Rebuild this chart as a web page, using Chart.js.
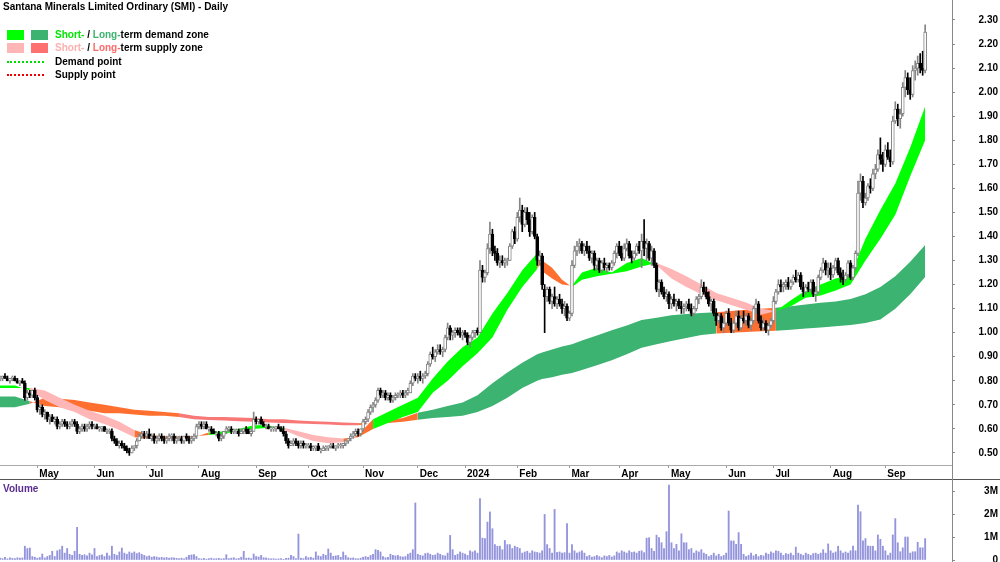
<!DOCTYPE html>
<html>
<head>
<meta charset="utf-8">
<script src="https://cdn.jsdelivr.net/npm/chart.js@4.4.1/dist/chart.umd.min.js"></script>
<style>
body { margin: 0; background: #fff; }
#wrap { position: relative; width: 1000px; height: 562px; overflow: hidden; font-family: "Liberation Sans", Arial, sans-serif; font-weight: bold; font-size: 10px; color: #000; }
#price { position: absolute; left: 0; top: 0; }
#volume { position: absolute; left: 0; top: 480px; }
.sep { position: absolute; left: 0; top: 479px; width: 1000px; height: 1px; background: #555; }
.vline { position: absolute; left: 952px; top: 0; width: 1px; height: 562px; background: #888; }
.txt { position: absolute; white-space: nowrap; line-height: 12px; }
.box { position: absolute; width: 17px; height: 10px; }
.dots { position: absolute; left: 7px; width: 37px; height: 0; }
</style>
</head>
<body>
<div id="wrap">
  <canvas id="price" width="1000" height="479"></canvas>
  <canvas id="volume" width="1000" height="82"></canvas>
  <div class="sep"></div>
  <div class="vline"></div>
  <div class="txt" style="left:3px;top:1px;">Santana Minerals Limited Ordinary (SMI) - Daily</div>
  <div class="box" style="left:7px;top:30px;background:#00ff00;"></div>
  <div class="box" style="left:31px;top:30px;background:#3cb371;"></div>
  <div class="txt" style="left:55px;top:29px;"><span style="color:#00e600">Short-</span> / <span style="color:#3cb371">Long-</span>term demand zone</div>
  <div class="box" style="left:7px;top:43px;background:#ffb6b6;"></div>
  <div class="box" style="left:31px;top:43px;background:#ff7070;"></div>
  <div class="txt" style="left:55px;top:42px;"><span style="color:#ffb0b0">Short-</span> / <span style="color:#ff6a6a">Long-</span>term supply zone</div>
  <div class="dots" style="top:61px;border-top:2px dotted #00dd00;"></div>
  <div class="txt" style="left:55px;top:56px;">Demand point</div>
  <div class="dots" style="top:74px;border-top:2px dotted #ee0000;"></div>
  <div class="txt" style="left:55px;top:69px;">Supply point</div>
  <div class="txt" style="left:3px;top:483px;color:#5a2d91;">Volume</div>
</div>
<script>
// month ticks (bar index of first trading day)
const monthNames = ['May', 'Jun', 'Jul', 'Aug', 'Sep', 'Oct', 'Nov', 'Dec', '2024', 'Feb', 'Mar', 'Apr', 'May', 'Jun', 'Jul', 'Aug', 'Sep'];
const monthIdx = [15, 38, 59, 80, 103, 124, 146, 168, 187, 208, 229, 249, 269, 292, 311, 334, 356];
const priceTicks = [0.5, 0.6, 0.7, 0.8, 0.9, 1.0, 1.1, 1.2, 1.3, 1.4, 1.5, 1.6, 1.7, 1.8, 1.9, 2.0, 2.1, 2.2, 2.3];
const volTicks = [0, 1000, 2000, 3000];
const volTickLabels = ['0', '1M', '2M', '3M'];

// daily prices in cents
const opens = [
  81,81,82,81,80,81,81,80,79,80, 79,73,75,74,76,73,68,69,66,67,
  64,65,63,64,61,62,63,62,61,62, 63,62,59,60,61,60,61,62,61,61,
  60,60,61,59,59,59,56,55,53,54, 53,52,51,50,52,53,55,57,58,57,
  58,56,57,55,56,57,56,55,56,57, 57,55,56,56,55,57,56,55,56,57,
  61,62,61,62,60,60,59,58,58,56, 57,59,60,60,59,59,59,58,59,60,
  59,58,59,64,63,64,62,61,61,60, 60,60,61,60,59,58,55,53,54,55,
  54,53,54,53,53,53,52,52,53,51, 51,52,52,53,53,52,53,53,53,54,
  55,56,57,58,59,58,60,63,64,67, 69,70,72,76,74,75,73,74,72,73,
  74,74,75,74,75,75,79,82,81,82, 81,82,83,87,91,90,92,93,92,93,
  98,102,99,100,101,100,99,100,99,96, 98,100,101,100,126,123,125,135,141,134,
  133,129,130,129,130,130,136,142,139,148, 151,145,150,147,142,148,140,130,132,118,
  115,118,113,115,112,114,112,110,111,106, 108,128,134,136,137,134,136,134,131,133,
  128,130,126,129,127,128,127,129,133,136, 133,131,135,137,132,131,133,136,134,138,
  135,137,131,134,128,118,121,117,115,116, 112,114,112,113,111,110,111,112,110,108,
  110,114,115,119,117,115,112,113,108,105, 107,102,104,108,104,101,104,107,102,106,
  105,107,103,105,110,112,105,102,104,101, 103,105,113,117,120,119,120,121,119,121,
  123,122,124,119,117,119,118,121,116,117, 123,126,129,126,127,124,127,130,125,123,
  122,124,129,123,127,133,158,163,154,156, 161,160,166,168,174,172,170,176,173,171,
  188,193,189,191,202,206,201,199,209,210, 212,210,209
];
const highs = [
  82,82,83,82,81,82,82,81,80,81, 80,76,76,76,77,74,70,70,68,67,
  66,66,65,65,63,64,64,63,63,64, 64,63,61,62,62,62,63,63,62,62,
  61,61,61,60,60,60,57,56,55,55, 54,53,52,53,53,56,58,59,59,59,
  60,58,58,57,58,58,57,57,58,58, 58,57,57,57,57,58,57,57,58,62,
  63,63,63,63,61,61,60,59,59,58, 59,61,61,61,60,60,60,60,60,61,
  60,60,67,65,64,65,63,62,62,61, 61,61,62,61,61,59,56,55,56,56,
  55,55,55,54,54,54,53,53,54,52, 53,53,53,54,54,53,54,54,54,55,
  56,58,59,60,60,60,64,65,68,70, 71,73,77,77,76,76,75,75,74,75,
  75,76,76,76,77,80,83,83,83,84, 83,84,88,92,94,93,95,95,94,99,
  104,103,101,102,102,102,101,101,100,99, 101,101,102,130,128,126,137,146,143,136,
  135,132,132,131,131,137,143,144,150,156, 153,152,152,150,149,150,141,134,133,120,
  119,119,116,119,115,116,114,113,112,109, 130,136,138,139,138,137,138,136,134,134,
  131,131,130,131,129,129,130,134,137,138, 136,137,139,138,134,134,137,138,141,147,
  139,138,136,135,129,122,122,119,118,117, 115,116,114,114,113,112,113,114,112,111,
  115,116,122,121,119,117,114,114,110,108, 108,106,109,110,106,105,109,109,107,109,
  108,108,106,111,114,113,107,106,105,104, 106,115,118,122,122,121,122,123,122,124,
  126,125,125,121,120,121,122,122,119,124, 127,131,130,129,129,128,131,131,127,126,
  125,130,130,128,134,163,166,165,158,162, 164,168,170,176,181,175,178,179,176,190,
  196,195,193,204,209,208,206,211,213,215, 216,217,228
];
const lows = [
  80,80,81,80,79,80,80,79,78,79, 72,72,73,73,72,67,66,65,64,63,
  62,63,62,60,60,61,61,60,60,61, 61,58,58,59,59,59,60,60,60,60,
  59,59,59,58,58,55,54,53,52,52, 51,50,49,50,51,52,55,56,56,56,
  56,55,54,54,55,55,54,54,55,55, 54,54,55,54,54,55,54,54,55,56,
  60,60,60,60,59,58,58,57,55,55, 56,58,59,58,58,58,57,58,58,58,
  58,57,59,62,62,62,61,60,60,59, 59,59,60,59,57,54,52,53,53,53,
  52,52,52,52,52,51,51,51,51,50, 51,51,51,52,52,51,52,52,52,53,
  54,55,56,57,57,57,59,62,63,66, 67,69,71,73,73,72,72,71,71,72,
  73,73,73,73,74,75,78,80,79,80, 79,81,82,86,89,88,91,91,90,92,
  97,97,97,98,99,98,97,98,95,94, 97,98,99,100,121,121,124,133,132,130,
  128,127,128,127,128,130,135,137,138,146, 142,144,145,140,141,139,128,128,118,100,
  113,112,110,111,110,111,108,107,105,105, 107,127,132,133,133,132,133,130,129,126,
  126,125,125,126,125,126,126,128,131,132, 130,130,134,131,129,130,132,133,127,132,
  130,130,128,127,117,115,116,114,113,110, 110,111,109,110,108,108,109,109,107,107,
  109,112,114,116,114,111,109,107,103,104, 101,100,103,103,100,100,103,101,101,104,
  103,102,101,104,108,104,101,101,100,99, 102,104,112,116,117,117,118,118,118,120,
  121,121,118,115,116,117,117,115,113,116, 122,125,124,123,122,123,126,124,121,120,
  121,123,122,122,126,132,155,152,153,155, 158,159,164,167,170,167,169,172,169,170,
  187,186,185,190,198,199,197,198,205,207, 208,207,208
];
const closes = [
  81,82,81,80,81,81,80,79,80,79, 73,75,74,76,73,68,69,66,67,64,
  65,63,64,61,62,63,62,61,62,63, 62,59,60,61,60,61,62,61,61,60,
  60,61,59,59,59,56,55,53,54,53, 52,51,50,52,53,55,57,58,57,58,
  56,57,55,56,57,56,55,56,57,57, 55,56,56,55,57,56,55,56,57,61,
  62,61,62,60,60,59,58,58,56,57, 59,60,60,59,59,59,58,59,60,59,
  58,59,64,63,64,62,61,61,60,60, 60,61,60,59,58,55,53,54,55,54,
  53,54,53,53,53,52,52,53,51,51, 52,52,53,53,52,53,53,53,54,55,
  56,57,58,59,58,60,63,64,67,69, 70,72,76,74,75,73,74,72,73,74,
  74,75,74,75,76,79,82,81,82,81, 82,83,87,91,90,92,93,92,93,98,
  102,99,100,101,100,99,100,99,96,98, 100,101,100,126,123,125,135,141,134,133,
  129,130,129,130,130,136,142,139,148,151, 145,150,147,142,148,140,130,132,120,115,
  118,113,115,112,114,112,110,111,106,108, 128,134,136,137,134,136,134,131,133,128,
  130,126,129,127,128,127,129,133,136,133, 131,135,137,132,131,133,136,134,138,135,
  137,131,134,128,118,121,117,115,116,112, 114,112,113,111,110,111,112,110,108,110,
  114,115,119,117,115,112,113,108,105,107, 102,104,108,104,101,104,107,102,106,105,
  107,103,105,110,112,105,102,104,101,103, 105,113,117,120,119,120,121,119,121,123,
  122,124,119,117,119,118,121,116,117,123, 126,129,126,127,124,127,130,125,123,122,
  124,129,123,127,133,158,163,154,156,161, 160,166,168,174,172,170,176,173,171,188,
  193,189,191,202,206,201,199,209,210,212, 210,209,225
];
// daily volume, thousands of shares
const volumes = [
  80,60,120,50,90,70,60,100,80,90, 600,500,520,150,120,80,110,260,90,150,
  200,380,150,400,450,600,300,500,250,200, 380,1420,250,200,230,180,300,220,500,150,
  200,220,150,300,180,600,250,200,350,520, 300,250,350,300,350,280,320,250,200,150,
  180,120,150,130,100,120,90,110,80,100, 90,70,60,80,50,120,200,220,240,150,
  60,50,70,40,60,80,50,60,70,50, 60,230,60,80,100,50,70,120,380,80,
  90,60,260,150,130,200,100,90,60,50, 60,40,50,60,30,70,80,200,150,60,
  1130,80,60,150,100,120,80,350,180,150, 250,200,480,300,160,180,200,120,350,200,
  100,80,90,60,50,80,120,150,120,200, 250,450,420,350,150,100,120,250,200,180,
  200,150,130,150,250,300,450,2480,250,200, 180,280,300,250,200,220,300,250,200,180,
  300,1070,450,200,250,350,300,260,200,400, 350,400,300,2670,950,930,1650,2090,1360,670,
  600,600,450,850,670,670,500,600,550,500, 300,350,380,300,400,350,330,300,400,1980,
  670,500,300,2200,330,350,300,320,1580,300, 670,400,300,350,400,300,150,200,120,150,
  200,150,100,180,150,200,130,180,350,300, 400,350,300,400,330,350,300,380,400,320,
  950,970,500,380,1080,970,750,500,1230,3260, 750,500,680,400,1140,750,750,450,500,300,
  400,350,450,300,250,150,200,300,180,250, 150,200,300,2130,830,830,680,1190,680,250,
  150,200,300,180,250,150,200,180,300,250, 350,300,400,380,300,200,280,250,300,200,
  560,300,250,200,300,250,200,280,300,250, 300,450,300,700,400,300,350,600,400,300,
  350,300,400,600,400,2390,2100,830,930,600, 600,600,400,1090,900,600,400,200,300,1090,
  1800,750,360,530,1000,1000,300,360,360,770, 530,530,930
];

// zone lines, read at these bar indexes
const bandIdx = [
  0,6,12,18,24,30,36,42,48,54, 60,66,72,78,84,90,96,102,108,114,
  120,126,132,138,144,150,156,162,168,174, 180,186,192,198,204,210,216,218,222,226,
  230,234,240,246,252,258,264,270,276,282, 288,294,300,306,312,318,324,330,336,342,
  348,354,360,366,372
];
const stFast = [
  .78,.78,.76,.72,.69,.67,.64,.62,.595,.565, .56,.56,.56,.565,.585,.59,.60,.615,.615,.595,
  .57,.55,.54,.545,.575,.64,.67,.70,.73,.81, .88,.94,.98,1.08,1.165,1.26,1.33,1.255,1.225,1.20,
  1.195,1.25,1.27,1.25,1.29,1.31,1.28,1.225,1.19,1.16, 1.135,1.115,1.095,1.075,1.09,1.135,1.175,1.20,1.225,1.24,
  1.39,1.51,1.62,1.77,1.94
];
const stSlow = [
  .77,.77,.77,.76,.73,.70,.675,.655,.63,.595, .575,.57,.567,.57,.575,.58,.59,.60,.605,.605,
  .59,.575,.565,.56,.565,.60,.625,.65,.67,.75, .80,.86,.915,.98,1.095,1.19,1.265,1.30,1.27,1.22,
  1.19,1.22,1.235,1.245,1.255,1.275,1.29,1.265,1.235,1.20, 1.165,1.145,1.125,1.10,1.09,1.11,1.145,1.155,1.175,1.20,
  1.30,1.39,1.49,1.65,1.80
];
const ltFast = [
  .735,.735,.715,.695,.69,.68,.675,.665,.665,.66, .655,.655,.65,.64,.637,.635,.632,.63,.627,.625,
  .622,.62,.618,.615,.615,.625,.635,.645,.667,.68, .695,.71,.74,.79,.835,.875,.91,.918,.93,.943,
  .952,.968,.988,1.01,1.03,1.053,1.062,1.072,1.078,1.082, 1.085,1.09,1.095,1.10,1.104,1.11,1.117,1.124,1.13,1.14,
  1.16,1.19,1.235,1.295,1.365
];
const ltSlow = [
  .69,.69,.705,.73,.725,.72,.71,.70,.69,.68, .675,.67,.665,.655,.65,.65,.647,.645,.64,.64,
  .635,.632,.63,.627,.625,.62,.625,.63,.638,.645, .65,.655,.67,.695,.73,.77,.80,.808,.815,.825,
  .832,.845,.865,.885,.91,.937,.952,.965,.978,.99, .997,1.00,1.003,1.006,1.008,1.012,1.017,1.022,1.027,1.032,
  1.04,1.055,1.10,1.16,1.232
];
// bar ranges where the zones are drawn orange
const stOrange = [[54, 84], [138, 150], [216, 230]];
const ltOrange = [[12, 70], [140, 165], [288, 312]];

const ST_DEMAND = '#00ff00';
const LT_DEMAND = '#3cb371';
const ST_SUPPLY = '#ffb6b6';
const LT_SUPPLY = '#f87878';
const ORANGE = '#ff7030';
const UP = '#858585';
const DOWN = '#000000';

const xMin = 0, xMax = 382.8;

Chart.defaults.font.family = '"Liberation Sans", Arial, sans-serif';
Chart.defaults.font.size = 10;
Chart.defaults.font.weight = 'bold';
Chart.defaults.color = '#000';

const inRange = (i, ranges) => ranges.some(r => i >= r[0] && i < r[1]);
const zoneColor = (fast, slow, ranges, demand, supply) => ctx => {
  const i = ctx.p0DataIndex, j = ctx.p1DataIndex;
  if (inRange(bandIdx[i], ranges)) return ORANGE;
  return fast[i] + fast[j] >= slow[i] + slow[j] ? demand : supply;
};
const band = (vals) => bandIdx.map((x, i) => ({x: x, y: vals[i]}));
const up = closes.map((c, i) => c >= opens[i]);
const noPad = s => { s.paddingTop = 0; s.paddingBottom = 0; s.paddingLeft = 0; s.paddingRight = 0; };

const lineBase = { type: 'line', borderWidth: 0, borderColor: 'rgba(0,0,0,0)', pointRadius: 0, tension: 0 };

new Chart(document.getElementById('price'), {
  type: 'line',
  data: {
    datasets: [
      Object.assign({}, lineBase, { data: band(stFast), fill: '+1', order: 2,
        segment: { backgroundColor: zoneColor(stFast, stSlow, stOrange, ST_DEMAND, ST_SUPPLY) } }),
      Object.assign({}, lineBase, { data: band(stSlow), fill: false, order: 2 }),
      Object.assign({}, lineBase, { data: band(ltFast), fill: '+1', order: 3,
        segment: { backgroundColor: zoneColor(ltFast, ltSlow, ltOrange, LT_DEMAND, LT_SUPPLY) } }),
      Object.assign({}, lineBase, { data: band(ltSlow), fill: false, order: 3 }),
      {
        type: 'bar', order: 1, grouped: false, barThickness: 1,
        data: highs.map((h, i) => ({x: i, y: [lows[i] / 100, h / 100]})),
        backgroundColor: up.map(u => u ? UP : DOWN)
      },
      {
        type: 'bar', order: 0, grouped: false, barThickness: 3, minBarLength: 1,
        borderWidth: 1, borderSkipped: false,
        data: opens.map((o, i) => ({x: i, y: [o / 100, closes[i] / 100]})),
        backgroundColor: up.map(u => u ? '#ffffff' : DOWN),
        borderColor: up.map(u => u ? UP : DOWN)
      }
    ]
  },
  options: {
    responsive: false,
    animation: false,
    events: [],
    devicePixelRatio: 1,
    layout: { padding: { left: 0, right: 2, top: 0, bottom: 0 } },
    plugins: { legend: { display: false }, tooltip: { enabled: false } },
    scales: {
      x: {
        type: 'linear', min: xMin, max: xMax, offset: false,
        afterBuildTicks: s => { s.ticks = monthIdx.map(v => ({value: v})); },
        afterFit: s => { s.height = 14; noPad(s); },
        grid: { drawOnChartArea: false, tickLength: 3, color: '#999', offset: false },
        border: { color: '#aaa' },
        ticks: { autoSkip: false, maxRotation: 0, align: 'start', labelOffset: 2, padding: 0,
          callback: (v, i) => monthNames[i] }
      },
      y: {
        position: 'right', min: 0.45, max: 2.383,
        afterBuildTicks: s => { s.ticks = priceTicks.map(v => ({value: v})); },
        afterFit: s => { s.width = 46; noPad(s); },
        grid: { drawOnChartArea: false, tickLength: 3, color: '#888' },
        border: { color: '#888' },
        ticks: { crossAlign: 'far', callback: v => v.toFixed(2) }
      }
    }
  }
});

new Chart(document.getElementById('volume'), {
  type: 'bar',
  data: {
    datasets: [{
      data: volumes.map((v, i) => ({x: i, y: v})),
      backgroundColor: '#9494dc',
      barThickness: 1.2,
      grouped: false
    }]
  },
  options: {
    responsive: false,
    animation: false,
    events: [],
    devicePixelRatio: 1,
    layout: { padding: { left: 0, right: 2, top: 1, bottom: 2 } },
    plugins: { legend: { display: false }, tooltip: { enabled: false } },
    scales: {
      x: { type: 'linear', min: xMin, max: xMax, offset: false, display: false },
      y: {
        position: 'right', min: 0, max: 3435,
        afterBuildTicks: s => { s.ticks = volTicks.map(v => ({value: v})); },
        afterFit: s => { s.width = 46; noPad(s); },
        grid: { drawOnChartArea: false, tickLength: 3, color: '#888' },
        border: { color: '#888' },
        ticks: { crossAlign: 'far', callback: (v, i) => volTickLabels[i] }
      }
    }
  }
});
</script>
</body>
</html>
